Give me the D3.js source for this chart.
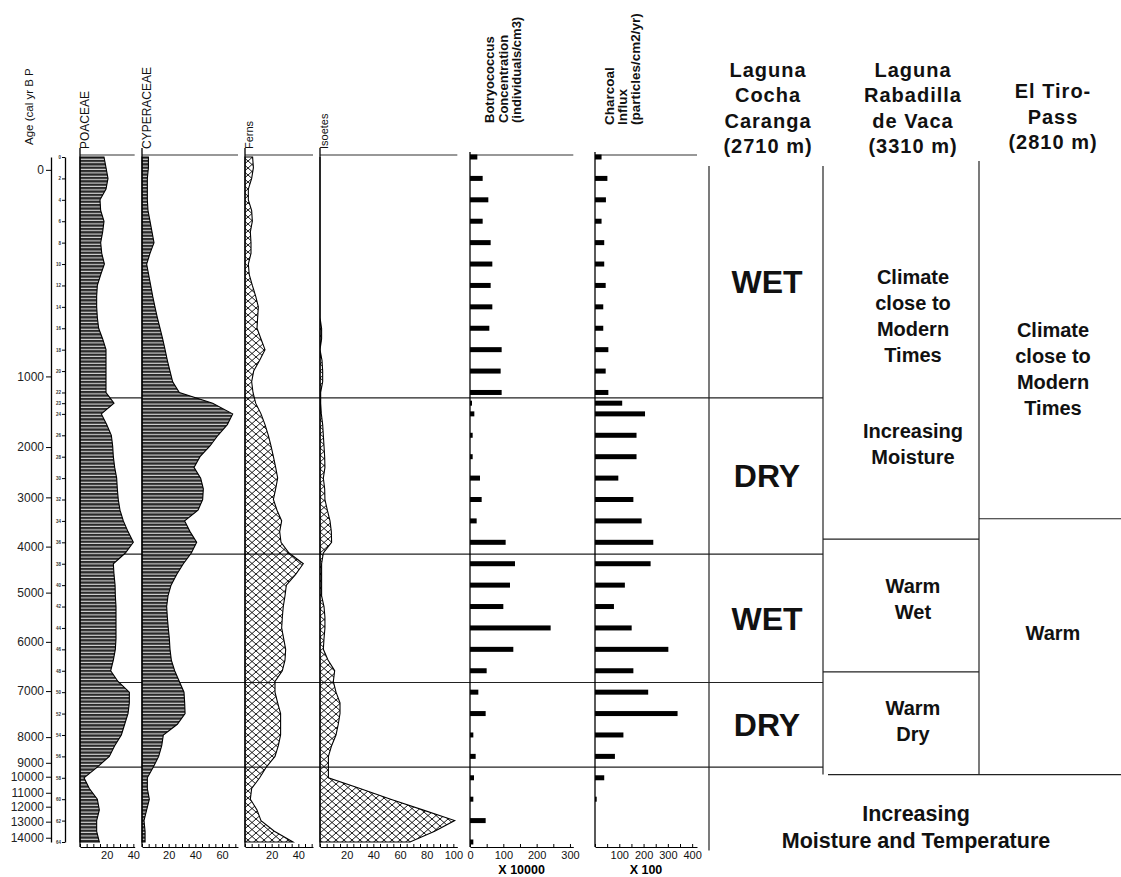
<!DOCTYPE html>
<html>
<head>
<meta charset="utf-8">
<script src="https://cdn.jsdelivr.net/npm/d3@7"></script>
<style>
body { margin: 0; background: #fff; }
svg { font-family: Arial, "Liberation Sans", sans-serif; }
</style>
</head>
<body>
<svg id="chart" width="1121" height="877"></svg>
<script>
// pollen samples, depth in cm
var pollenDepth = [0,1,2,3,4,5,6,7,8,9,10,11,12,13,14,15,16,17,18,19,20,21,22,23,24,25,26,27,28,29,30,31,32,
	33,34,35,36,37,38,39,40,41,42,43,44,45,46,47,48,49,50,51,52,53,54,55,56,57,58,59,60,61,62,63,64];

var poaceae = [18,19.5,21,19.5,15,15.5,18,17,15.5,16.3, 18.3,15.5,13,12.5,12.5,13,14,17,19.5,19.5,
	19.5,19.5,19.5,25.5,16,20,23.5,24.5,25,26, 27.5,28,28.7,30,32.5,36,40,34,25,25.5,
	26.3,26.5,27,27,27,27,26.5,25,23,28.5, 37,37,36,33.5,31,26,22,13,3,7, 13,14.5,12.5,12.5,14.5];

var cyperaceae = [4.8,4.8,4,4,4,4.5,6,7.5,9,6, 3.5,5,6.5,8,9.7,11.5,13.5,15.5,17.3,19,
	21,23,28,53,68,64,57,51,43.5,39, 44,46,45.5,42,32,36,41,37,31,26,
	21.8,19.5,18.5,19,19.7,20.5,21,22,24.5,28, 31.5,32,32.3,26.5,16,14.8,12.5,8.5,4,4, 5.5,3.5,1.5,2.3,2.3];

var ferns = [5.7,6.3,5,2.5,2.5,5,5.5,4,4.5,4.5, 2.5,3.2,5.5,8,10,9.5,9,12,15,11,
	6.5,5,6,8,12,15,17.5,19.5,21.3,23, 24.5,23,21.3,24,27.5,26,27,33,43.7,38,
	31,30,28.7,28,27.5,29,30.5,30,28,22.5, 22.5,24.5,26.7,26.7,26.7,25,22.5,16,11,5, 4,9,12,22,36];

var isoetes = [0,0,0,0,0,0,0,0,0,0, 0,0,0,0,0,0,1.2,1.2,0,1.5,
	2,2,0.5,0.5,1,2,2.5,3,3.5,3.7, 2.5,3.5,3.7,5.5,7.5,8.5,8.7,2.5,1.2,1.2,
	1.2,1.2,3,3.7,3.7,3,2.5,6,11,10, 12,15,15,13.7,12,8.7,6.3,6.3,6.3,30, 53,77,101,86,67.5];

// counted samples (bars)
var barDepth = [0,2,4,6,8,10,12,14,16,18,20,22,23,24,26,28,30,32,34,36,38,40,42,44,46,48,50,52,54,56,58,60,62,64];
var botryococcus = [22,38,55,38,62,67,62,67,58,95,92,95,6,13,8,8,30,35,20,107,135,120,100,242,130,50,25,47,10,17,12,10,47,10];
var charcoal = [27,51,45,27,38,38,44,34,34,55,44,55,112,206,171,171,96,158,192,240,229,123,78,151,302,158,219,340,117,82,38,7,0,0];

// age model: calibrated ages and their depth
var ageTicks = [0,1000,2000,3000,4000,5000,6000,7000,8000,9000,10000,11000,12000,13000,14000];
var ageTickDepth = [1.2,20.5,27.1,31.8,36.4,40.7,45.3,49.9,54.2,56.6,57.9,59.4,60.7,62.1,63.6];

// zone boundaries
var zoneDepth = [22.5,37.1,49.1,57.0];
var cochaZones = ['WET','DRY','WET','DRY'];
var rabadillaBounds = [35.7,48.1];
var tiroBounds = [33.8];

var sites = [
	['Laguna','Cocha','Caranga','(2710 m)'],
	['Laguna','Rabadilla','de Vaca','(3310 m)'],
	['El Tiro-','Pass','(2810 m)']
];

var rabadillaLabels = [
	{depth: 14.8, lines: ['Climate','close to','Modern','Times']},
	{depth: 26.8, lines: ['Increasing','Moisture']},
	{depth: 41.3, lines: ['Warm','Wet']},
	{depth: 52.7, lines: ['Warm','Dry']}
];
var tiroLabels = [
	{depth: 19.8, lines: ['Climate','close to','Modern','Times']},
	{depth: 44.5, lines: ['Warm']}
];
var lateLabel = {depth: 62.6, lines: ['Increasing','Moisture and Temperature']};


var svg = d3.select('#chart');
var defs = svg.append('defs');

var hp = defs.append('pattern').attr('id', 'hstripe')
	.attr('patternUnits', 'userSpaceOnUse').attr('width', 6).attr('height', 3.4);
hp.append('rect').attr('width', 6).attr('height', 3.4).attr('fill', '#d8d8d8');
hp.append('rect').attr('width', 6).attr('height', 2.3).attr('fill', '#2a2a2a');

var xp = defs.append('pattern').attr('id', 'xhatch')
	.attr('patternUnits', 'userSpaceOnUse').attr('width', 8).attr('height', 7);
xp.append('path').attr('d', 'M0,0L8,7M8,0L0,7')
	.attr('stroke', '#000').attr('stroke-width', 0.9).attr('fill', 'none');

var y = d3.scaleLinear().domain([0, 64]).range([157, 842]);
var TOP = 155, BOTTOM = 847;

var columns = [
	{name: 'POACEAE', values: poaceae, x0: 80, max: 41, step: 5, labels: [20, 40], fill: 'url(#hstripe)'},
	{name: 'CYPERACEAE', values: cyperaceae, x0: 142, max: 72, step: 5, labels: [20, 40, 60], fill: 'url(#hstripe)'},
	{name: 'Ferns', values: ferns, x0: 245, max: 51, step: 5, labels: [20, 40], fill: 'url(#xhatch)'},
	{name: 'Isoetes', values: isoetes, x0: 320, max: 103, step: 5, labels: [20, 40, 60, 80, 100], fill: 'url(#xhatch)'}
];
columns.forEach(function(c){
	c.x = d3.scaleLinear().domain([0, c.max]).range([c.x0, c.x0 + c.max * 4 / 3]);
});

var barCols = [
	{values: botryococcus, x: d3.scaleLinear().domain([0, 310]).range([470, 573.3]), step: 50, labels: [0, 100, 200, 300], unit: 'X 10000'},
	{values: charcoal, x: d3.scaleLinear().domain([0, 420]).range([595, 697]), step: 50, labels: [100, 200, 300, 400], unit: 'X 100'}
];

var siteX = [709, 823, 979, 1121];

// zone lines run under the pollen fills
svg.append('g').selectAll('line').data(zoneDepth).enter().append('line')
	.attr('x1', 80).attr('x2', siteX[1])
	.attr('y1', function(d){ return y(d); }).attr('y2', function(d){ return y(d); })
	.attr('stroke', '#222').attr('stroke-width', 1.2);

function frame(x, max)
{
	svg.append('line').attr('x1', x(0)).attr('x2', x(max)).attr('y1', TOP).attr('y2', TOP)
		.attr('stroke', '#333').attr('stroke-width', 1.2);
}

function bottomAxis(x, max, step, labels)
{
	var axis = d3.axisBottom(x)
		.tickValues(d3.range(0, max + 0.01, step))
		.tickSize(-3).tickSizeOuter(0).tickPadding(4)
		.tickFormat(function(d){ return labels.indexOf(d) >= 0 ? d : ''; });
	var g = svg.append('g').attr('transform', 'translate(0,' + BOTTOM + ')').call(axis);
	g.selectAll('text').attr('font-size', 11).attr('font-family', 'Arial, Liberation Sans').attr('fill', '#111');
	g.select('.domain').attr('stroke', '#000').attr('stroke-width', 1.2);
}

columns.forEach(function(c)
{
	var pts = pollenDepth.map(function(d, i){ return {depth: d, v: c.values[i]}; });
	var area = d3.area()
		.y(function(d){ return y(d.depth); })
		.x0(c.x(0))
		.x1(function(d){ return c.x(d.v); });

	svg.append('path').datum(pts).attr('d', area)
		.attr('fill', c.fill).attr('stroke', '#000').attr('stroke-width', 1.1);

	frame(c.x, c.max);

	svg.append('line').attr('x1', c.x0).attr('x2', c.x0).attr('y1', 148).attr('y2', BOTTOM)
		.attr('stroke', '#000').attr('stroke-width', 1.3);

	bottomAxis(c.x, c.max, c.step, c.labels);
});

barCols.forEach(function(c)
{
	var max = c.x.domain()[1];
	frame(c.x, max);

	svg.append('g').selectAll('rect').data(c.values).enter().append('rect')
		.attr('x', c.x(0))
		.attr('y', function(d, i){ return y(barDepth[i]) - 2.5; })
		.attr('width', function(d){ return c.x(d) - c.x(0); })
		.attr('height', 5)
		.attr('fill', '#000');

	svg.append('line').attr('x1', c.x(0)).attr('x2', c.x(0)).attr('y1', 152).attr('y2', BOTTOM)
		.attr('stroke', '#000').attr('stroke-width', 1.3);

	bottomAxis(c.x, max, c.step, c.labels);

	var mid = (c.x.range()[0] + c.x.range()[1]) / 2;
	svg.append('text').attr('x', mid).attr('y', 873.5).attr('text-anchor', 'middle')
		.attr('font-size', 12.5).attr('font-weight', 'bold').text(c.unit);
});

// age axis
var ageAxis = d3.axisLeft(y).tickValues(ageTickDepth).tickSize(5).tickSizeOuter(0).tickPadding(2)
	.tickFormat(function(d, i){ return ageTicks[i]; });
var ga = svg.append('g').attr('transform', 'translate(51,0)').call(ageAxis);
ga.selectAll('text').attr('font-size', 12).attr('font-family', 'Arial, Liberation Sans').attr('fill', '#222');
ga.select('.domain').attr('stroke', '#000').attr('stroke-width', 1.3);

// depth axis with its (tiny) sample labels
var depthAxis = d3.axisLeft(y).tickValues(barDepth).tickSize(3).tickSizeOuter(0).tickPadding(1);
var gd = svg.append('g').attr('transform', 'translate(65,0)').call(depthAxis);
gd.selectAll('text').attr('font-size', 4.5).attr('font-weight', 'bold').attr('fill', '#333');
gd.select('.domain').attr('stroke', '#000').attr('stroke-width', 1.3);

// rotated headers
function vtext(x, y0, str, size, weight)
{
	svg.append('text').attr('transform', 'translate(' + x + ',' + y0 + ') rotate(-90)')
		.attr('font-size', size).attr('font-weight', weight || 'normal').attr('fill', '#111').text(str);
}
vtext(33, 145, 'Age (cal yr B P', 11.5);
vtext(89, 149, 'POACEAE', 12);
vtext(151, 149, 'CYPERACEAE', 12);
vtext(253, 149, 'Ferns', 11);
vtext(328, 149, 'Isoetes', 11);
['Botryococcus', 'Concentration', '(individuals/cm3)'].forEach(function(s, i){ vtext(494 + i * 13.5, 123, s, 13, 'bold'); });
['Charcoal', 'Influx', '(particles/cm2/yr)'].forEach(function(s, i){ vtext(614 + i * 13, 125, s, 13.5, 'bold'); });

// site panels
function hline(x1, x2, d)
{
	svg.append('line').attr('x1', x1).attr('x2', x2).attr('y1', y(d)).attr('y2', y(d))
		.attr('stroke', '#222').attr('stroke-width', 1.2);
}
function vline(x, d1, d2)
{
	svg.append('line').attr('x1', x).attr('x2', x).attr('y1', y(d1)).attr('y2', y(d2))
		.attr('stroke', '#222').attr('stroke-width', 1.2);
}
vline(siteX[0], 0.84, 64.8);
vline(siteX[1], 0.84, 57.7);
vline(siteX[2], 0.37, 57.7);
rabadillaBounds.forEach(function(d){ hline(siteX[1], siteX[2], d); });
tiroBounds.forEach(function(d){ hline(siteX[2], siteX[3], d); });
hline(828, siteX[3], 57.7);

function block(cx, cy, lines, size, weight, lh, spacing)
{
	var t = svg.append('text').attr('text-anchor', 'middle').attr('font-size', size)
		.attr('font-weight', weight).attr('fill', '#111').attr('letter-spacing', spacing || 0);
	lines.forEach(function(s, i){
		t.append('tspan').attr('x', cx).attr('y', cy + (i - (lines.length - 1) / 2) * lh)
			.attr('dy', '0.36em').text(s);
	});
}

// site headers (bottom aligned)
var headerX = [768, 913, 1053];
sites.forEach(function(lines, k){
	var last = k === 2 ? 149 : 153;
	lines.forEach(function(s, i){
		svg.append('text').attr('x', headerX[k]).attr('y', last - (lines.length - 1 - i) * 25.3)
			.attr('text-anchor', 'middle').attr('font-size', 20).attr('font-weight', 'bold')
			.attr('letter-spacing', 1).attr('fill', '#111').text(s);
	});
});

var zb = [0.84].concat(zoneDepth);
cochaZones.forEach(function(s, i){
	block((siteX[0] + siteX[1]) / 2 + 1, y((zb[i] + zb[i + 1]) / 2), [s], 32, 'bold', 0);
});
rabadillaLabels.forEach(function(l){ block(913, y(l.depth), l.lines, 20, 'bold', 26); });
tiroLabels.forEach(function(l){ block(1053, y(l.depth), l.lines, 20, 'bold', 26); });
block(916, y(lateLabel.depth), lateLabel.lines, 21.5, 'bold', 27);
</script>
</body>
</html>
